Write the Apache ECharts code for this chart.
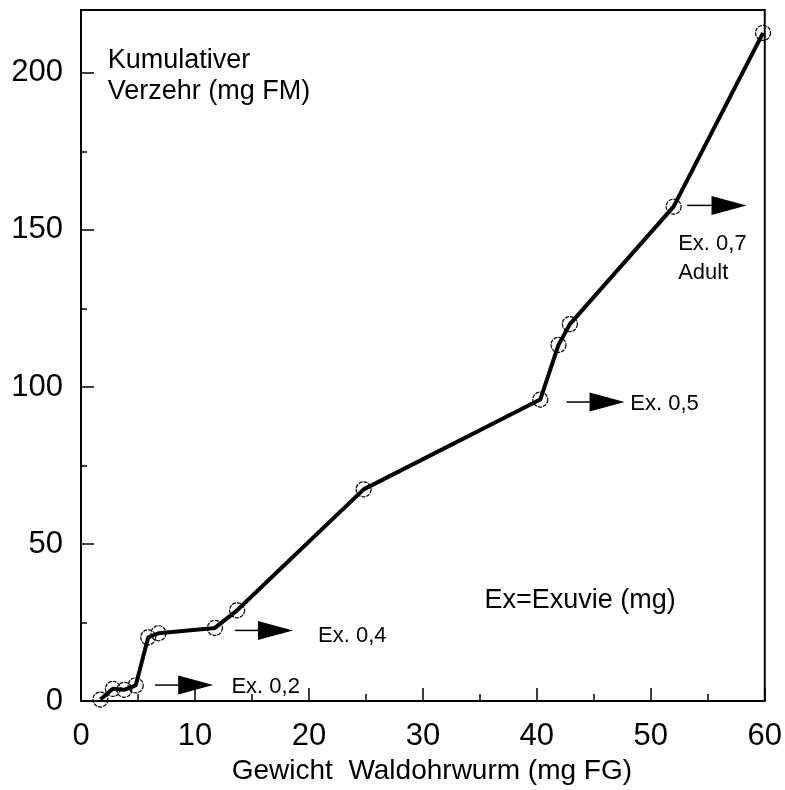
<!DOCTYPE html>
<html><head><meta charset="utf-8">
<script src="https://cdn.jsdelivr.net/npm/echarts@6/dist/echarts.min.js"></script>
<style>html,body{margin:0;padding:0;background:#fff}#c{width:785px;height:790px}</style>
</head><body><div id="c"></div>
<script>
// Data
const weightMg = [1.7, 2.8, 3.8, 4.8, 5.9, 6.8, 11.75, 13.7, 24.8, 40.3, 41.9, 42.9, 52.0, 59.85];
const consumptionMg = [0.5, 3.9, 3.6, 5.0, 20.3, 21.6, 23.3, 28.9, 67.4, 96.0, 113.4, 120.0, 157.4, 212.7];
const xTickLabels = ['0','10','20','30','40','50','60'];
const yTickLabels = ['0','50','100','150','200'];

// Exuviae annotations (data coordinates)
const exLabels = ['Ex. 0,2', 'Ex. 0,4', 'Ex. 0,5', 'Ex. 0,7\nAdult'];
const exArrowStartX = [6.5, 13.5, 42.6, 53.2];
const exArrowEndX = [11.6, 18.6, 47.7, 58.4];
const exArrowY = [5.1, 22.5, 95.2, 157.8];
const exLabelX = [13.2, 20.8, 48.2, 52.4];
const exLabelY = [4.6, 20.6, 94.6, 150.0];
const exLabelAlign = ['middle', 'middle', 'middle', 'top'];

// Free texts
const noteTexts = ['Kumulativer\nVerzehr (mg FM)', 'Ex=Exuvie (mg)'];
const noteX = [2.35, 35.4];
const noteY = [209, 32.1];
const noteAlign = ['top', 'middle'];

const FONT = '"Liberation Sans", Arial, Helvetica, sans-serif';

const chart = echarts.init(document.getElementById('c'), null, {renderer: 'canvas'});
const seriesData = weightMg.map((x, i) => [x, consumptionMg[i]]);

chart.setOption({
  animation: false,
  backgroundColor: '#fff',
  grid: {left: 81, right: 20, top: 10, bottom: 86, show: true, borderColor: '#000', borderWidth: 2, containLabel: false},
  xAxis: {
    type: 'value', min: 0, max: 60, interval: 10,
    name: 'Gewicht  Waldohrwurm (mg FG)', nameLocation: 'middle', nameGap: 50,
    nameTextStyle: {fontFamily: FONT, fontSize: 28, color: '#000', padding: [0, 0, 0, 18]},
    axisLine: {lineStyle: {color: '#000', width: 2}},
    axisTick: {inside: true, length: 13, lineStyle: {color: '#000', width: 1.5}},
    minorTick: {show: true, splitNumber: 2, length: 7, lineStyle: {color: '#000', width: 1.5}},
    splitLine: {show: false},
    axisLabel: {margin: 20, fontFamily: FONT, fontSize: 31, color: '#000',
      formatter: v => xTickLabels.indexOf(String(v)) >= 0 ? String(v) : ''}
  },
  yAxis: [{
    type: 'value', min: 0, max: 220, interval: 50,
    axisLine: {lineStyle: {color: '#000', width: 2}},
    axisTick: {inside: true, length: 13, lineStyle: {color: '#000', width: 1.5}},
    splitLine: {show: false},
    axisLabel: {margin: 18, fontFamily: FONT, fontSize: 31, color: '#000',
      formatter: v => yTickLabels.indexOf(String(v)) >= 0 ? String(v) : ''}
  }, {
    type: 'value', min: 0, max: 220, interval: 25, position: 'left',
    axisLine: {show: false},
    axisTick: {inside: true, length: 6, lineStyle: {color: '#000', width: 1.5}},
    splitLine: {show: false},
    axisLabel: {show: false}
  }],
  series: [{
    type: 'line',
    data: seriesData,
    yAxisIndex: 0,
    symbol: 'circle',
    symbolSize: 15,
    lineStyle: {color: '#000', width: 4},
    itemStyle: {color: 'rgba(0,0,0,0)', borderColor: '#000', borderWidth: 1.2, borderType: [4, 1]},
    z: 3
  }]
});

function px(x, y) { return chart.convertToPixel({gridIndex: 0}, [x, y]); }

const g = [];
for (let i = 0; i < exLabels.length; i++) {
  const a = px(exArrowStartX[i], exArrowY[i]);
  const b = px(exArrowEndX[i], exArrowY[i]);
  const headLen = 35, headHalf = 9.5;
  g.push({type: 'line', shape: {x1: a[0], y1: a[1], x2: b[0] - headLen + 2, y2: b[1]},
    style: {stroke: '#000', lineWidth: 1.5}, z: 10});
  g.push({type: 'polygon', shape: {points: [[b[0] - headLen, b[1] - headHalf], [b[0], b[1]], [b[0] - headLen, b[1] + headHalf]]},
    style: {fill: '#000'}, z: 10});
  const t = px(exLabelX[i], exLabelY[i]);
  g.push({type: 'text', x: t[0], y: t[1], z: 10,
    style: {text: exLabels[i], font: '22px ' + FONT, fill: '#000', align: 'left', verticalAlign: exLabelAlign[i], lineHeight: 29}});
}
for (let i = 0; i < noteTexts.length; i++) {
  const t = px(noteX[i], noteY[i]);
  g.push({type: 'text', x: t[0], y: t[1], z: 10,
    style: {text: noteTexts[i], font: '27px ' + FONT, fill: '#000', align: 'left', verticalAlign: noteAlign[i], lineHeight: 31}});
}
chart.setOption({graphic: g});
</script>
</body></html>
